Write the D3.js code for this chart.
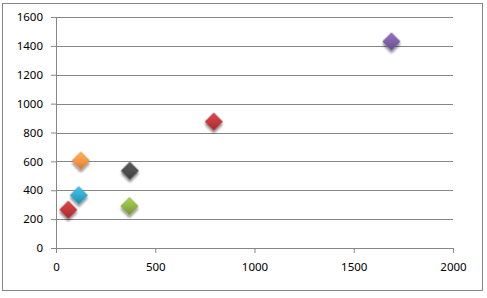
<!DOCTYPE html>
<html>
<head>
<meta charset="utf-8">
<script src="https://cdn.jsdelivr.net/npm/d3@7"></script>
<style>
body { margin: 0; background: #fff; }
text { font-family: "Noto Sans", "Open Sans", sans-serif; font-size: 11.5px; fill: #000; }
</style>
</head>
<body>
<script>
// data
var xValues = [62, 115, 125, 370, 372, 795, 1690];
var yValues = [265, 365, 605, 290, 535, 875, 1430];
var pointColors = ["#c0393b", "#31a9cc", "#f79646", "#8fb444", "#4d4d4d", "#c0393b", "#7d5fa6"];
var xTicks = [0, 500, 1000, 1500, 2000];
var yTicks = [0, 200, 400, 600, 800, 1000, 1200, 1400, 1600];

var svgWidth = 487, svgHeight = 298;
var margin = {top: 17, right: 34, bottom: 50, left: 56};
var chartWidth = 453 - margin.left;
var chartHeight = 248 - margin.top;

var svg = d3.select("body").append("svg")
  .attr("width", svgWidth)
  .attr("height", svgHeight);

// outer frame
svg.append("rect")
  .attr("x", 2.5).attr("y", 3.5)
  .attr("width", 480).attr("height", 287)
  .attr("fill", "#fff")
  .attr("stroke", "#868686");

var defs = svg.append("defs");
var shadow = defs.append("filter").attr("id", "shadow")
  .attr("x", "-50%").attr("y", "-50%").attr("width", "200%").attr("height", "200%");
shadow.append("feGaussianBlur").attr("in", "SourceAlpha").attr("stdDeviation", 1.3);
shadow.append("feOffset").attr("dx", 2).attr("dy", 2).attr("result", "off");
shadow.append("feComponentTransfer").append("feFuncA").attr("type", "linear").attr("slope", 0.45);
var merge = shadow.append("feMerge");
merge.append("feMergeNode");
merge.append("feMergeNode").attr("in", "SourceGraphic");

pointColors.forEach(function(c, i) {
  var g = defs.append("linearGradient").attr("id", "grad" + i)
    .attr("x1", "0").attr("y1", "0").attr("x2", "1").attr("y2", "1");
  g.append("stop").attr("offset", "0%").attr("stop-color", d3.color(c).brighter(0.5));
  g.append("stop").attr("offset", "55%").attr("stop-color", c);
  g.append("stop").attr("offset", "100%").attr("stop-color", d3.color(c).darker(0.6));
});

var chart = svg.append("g").attr("transform", "translate(" + margin.left + "," + margin.top + ")");

var xScale = d3.scaleLinear().domain([0, 2000]).range([0, chartWidth]);
var yScale = d3.scaleLinear().domain([0, 1600]).range([chartHeight, 0]);

// gridlines
chart.selectAll(".grid")
  .data(yTicks)
  .enter().append("line")
  .attr("x1", 0).attr("x2", chartWidth)
  .attr("y1", function(d) { return Math.round(yScale(d)) + 0.5; })
  .attr("y2", function(d) { return Math.round(yScale(d)) + 0.5; })
  .attr("stroke", "#868686");

var xAxis = d3.axisBottom(xScale).tickValues(xTicks).tickSize(5).tickPadding(10).tickFormat(d3.format("d"));
var yAxis = d3.axisLeft(yScale).tickValues(yTicks).tickSize(5).tickPadding(8).tickFormat(d3.format("d"));

var gx = chart.append("g")
  .attr("transform", "translate(0," + chartHeight + ")")
  .call(xAxis);
var gy = chart.append("g").call(yAxis);

[gx, gy].forEach(function(g) {
  g.select(".domain").attr("stroke", "#868686");
  g.selectAll(".tick line").attr("stroke", "#868686");
  g.selectAll("text").attr("fill", "#000").style("font-size", "11.5px").style("font-family", "\"Noto Sans\", sans-serif");
});

// diamond markers
var diamond = d3.symbol().type(d3.symbolSquare).size(150);
chart.selectAll(".pt")
  .data(xValues)
  .enter().append("path")
  .attr("d", diamond)
  .attr("transform", function(d, i) {
    return "translate(" + xScale(d) + "," + yScale(yValues[i]) + ") rotate(45)";
  })
  .attr("fill", function(d, i) { return "url(#grad" + i + ")"; })
  .attr("stroke", function(d, i) { return d3.color(pointColors[i]).darker(0.3); })
  .attr("stroke-width", 0.6)
  .attr("filter", "url(#shadow)");
</script>
</body>
</html>
